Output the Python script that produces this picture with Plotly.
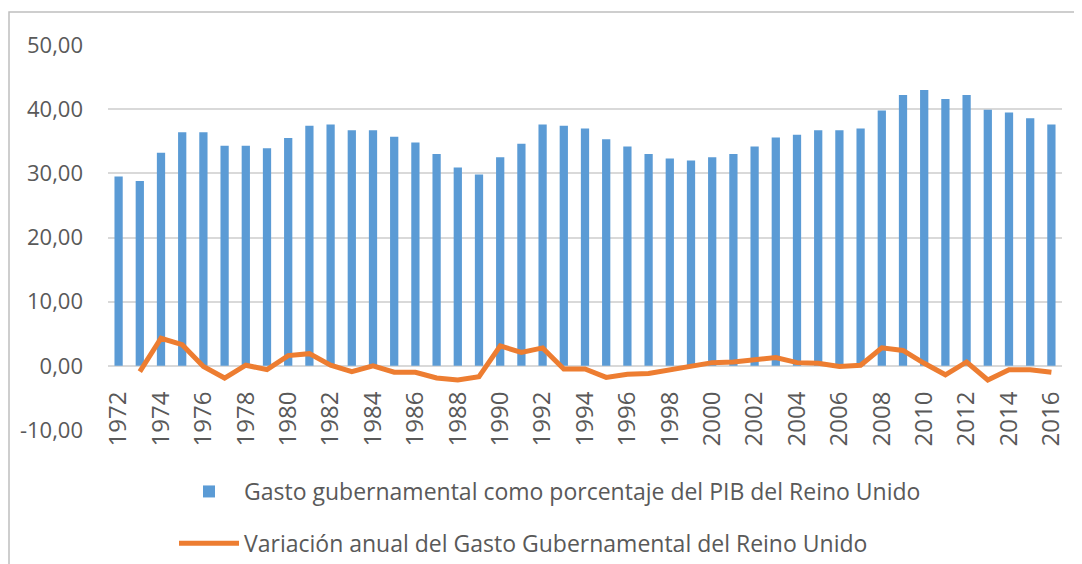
import plotly.graph_objects as go

years = [str(y) for y in range(1972, 2017)]

gasto_pib = [29.5, 28.8, 33.2, 36.4, 36.4, 34.3, 34.3, 33.9, 35.5, 37.4, 37.6, 36.7, 36.7, 35.7, 34.8,
             33.0, 30.9, 29.8, 32.5, 34.6, 37.6, 37.4, 37.0, 35.3, 34.2, 33.0, 32.3, 32.0, 32.5, 33.0,
             34.2, 35.6, 36.0, 36.7, 36.7, 37.0, 39.8, 42.2, 43.0, 41.6, 42.2, 39.9, 39.5, 38.6, 37.6]

variacion = [None, -0.9, 4.3, 3.3, -0.1, -1.9, 0.1, -0.6, 1.6, 1.9, 0.1, -0.9, 0.0, -1.0, -1.0,
             -1.9, -2.2, -1.7, 3.1, 2.1, 2.8, -0.5, -0.5, -1.8, -1.3, -1.2, -0.6, -0.1, 0.5, 0.6,
             0.9, 1.3, 0.5, 0.4, -0.1, 0.1, 2.8, 2.4, 0.4, -1.4, 0.6, -2.2, -0.6, -0.6, -1.0]

y_tickvals = [-10, 0, 10, 20, 30, 40, 50]
y_ticktext = ["-10,00", "0,00", "10,00", "20,00", "30,00", "40,00", "50,00"]

name_bar = "Gasto gubernamental como porcentaje del PIB del Reino Unido"
name_line = "Variación anual del Gasto Gubernamental del Reino Unido"

tick_years = [y for y in years if int(y) % 2 == 0]

FONT = "Open Sans"
GREY = "#595959"

fig = go.Figure()
fig.add_trace(go.Bar(x=years, y=gasto_pib, name=name_bar, marker_color="#5B9BD5",
                     marker_line_width=0, legendgroup="a"))
fig.add_trace(go.Scatter(x=years, y=variacion, name=name_line, mode="lines",
                         line=dict(color="#ED7D31", width=5), legendgroup="b"))

# page has an 8px body margin; figure coordinates are page coordinates minus 8
OFF = 8
W, H = 1082 - OFF, 564 - OFF
plot_left, plot_right, plot_top, plot_bottom = 108 - OFF, 1062 - OFF, 45 - OFF, 430 - OFF
L, R, T, B = plot_left, W - plot_right, plot_top, H - plot_bottom
pw = plot_right - plot_left
ph = plot_bottom - plot_top


def px_x(x):
    return (x - OFF - plot_left) / pw


def px_y(y):
    return (plot_bottom - (y - OFF)) / ph


fig.update_layout(
    width=W, height=H,
    margin=dict(l=L, r=R, t=T, b=B, autoexpand=False),
    paper_bgcolor="white", plot_bgcolor="white",
    bargap=0.61,
    font=dict(family=FONT, color=GREY),
    showlegend=True,
    legend=dict(x=px_x(174), y=px_y(470), xanchor="left", yanchor="top",
                font=dict(size=23, color=GREY), traceorder="grouped", tracegroupgap=19,
                itemwidth=60, bgcolor="rgba(0,0,0,0)"),
    xaxis=dict(type="category", anchor="free", position=1 / 6, showgrid=False,
               showline=False, zeroline=False, ticks="", tickangle=-90,
               tickmode="array", tickvals=tick_years, ticktext=tick_years,
               tickfont=dict(size=24, color=GREY), ticklabelstandoff=20, automargin=False),
    yaxis=dict(range=[-10, 50], tickmode="array", tickvals=y_tickvals, ticktext=y_ticktext,
               showgrid=True, gridcolor="#d9d9d9", gridwidth=2, zeroline=False, showline=False,
               ticks="", tickfont=dict(size=22, color=GREY), ticklabelstandoff=24, automargin=False),
    shapes=[dict(type="rect", xref="paper", yref="paper",
                 x0=px_x(9), x1=px_x(1100), y0=px_y(600), y1=px_y(12),
                 line=dict(color="#bfbfbf", width=1.5), fillcolor="rgba(0,0,0,0)", layer="below")],
)

fig.write_html("out.html")
